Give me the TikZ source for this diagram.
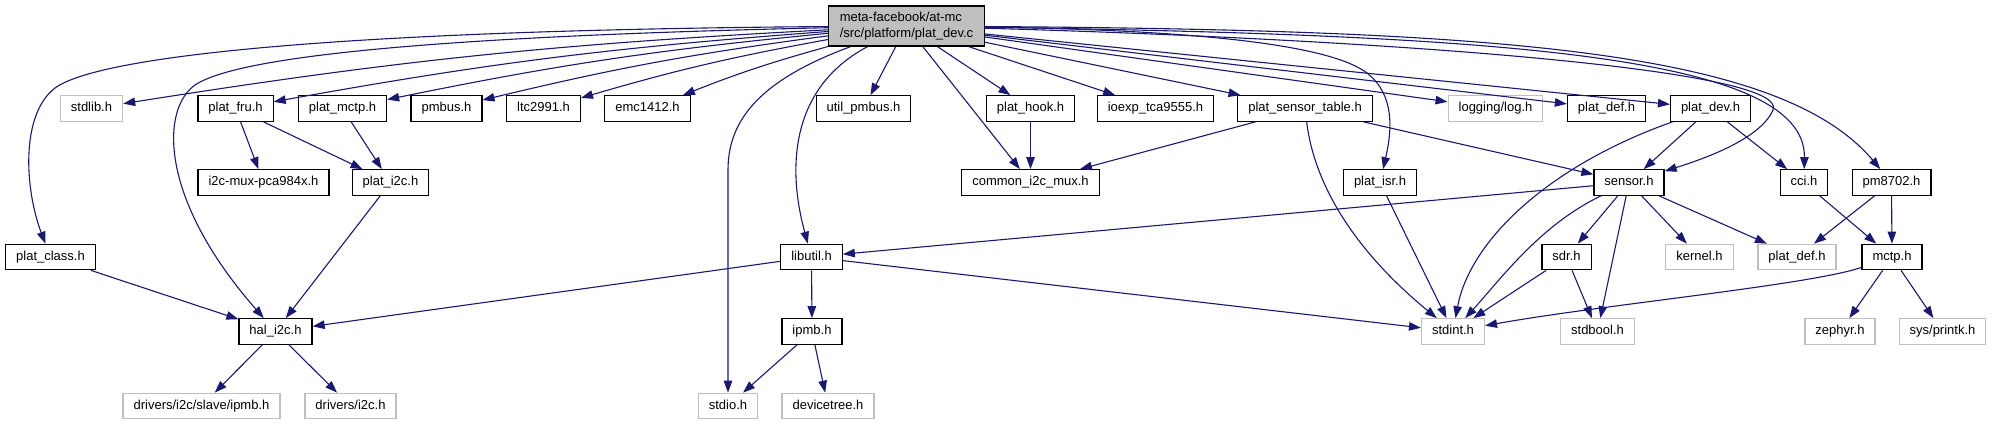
\documentclass[tikz,border=0pt]{standalone}
\usepackage{fontspec}
\setmainfont{Liberation Sans}
\usetikzlibrary{arrows.meta}
\definecolor{edgeblue}{HTML}{191970}

\begin{document}
\begin{tikzpicture}[x=1pt, y=-1pt, font=\fontsize{13}{16}\selectfont,
  >={Triangle[length=12pt,width=8.5pt]},
  e/.style={->, draw=edgeblue, line width=1.1pt},
  hdr/.style={draw=black, line width=1.2pt, fill=white, inner xsep=10.5pt, inner ysep=0pt,
    minimum height=25.5pt, text height=9.5pt, text depth=3pt},
  ext/.style={hdr, draw=black!25}]
\useasboundingbox (0,0) rectangle (1992,425);
\node[draw=black, fill=black!25, line width=1.2pt, align=left, inner xsep=11pt, minimum height=40pt]
  (root) at (906.5,26) {meta-facebook/at-mc\\/src/platform/plat\_dev.c};
% row 1
\node[ext] (stdlib) at (91.5,108.5)  {stdlib.h};
\node[hdr] (pfru)   at (235.5,108.5) {plat\_fru.h};
\node[hdr] (pmctp)  at (342.5,108.5) {plat\_mctp.h};
\node[hdr] (pmbus)  at (446.5,108.5) {pmbus.h};
\node[hdr] (ltc)    at (543.5,108.5) {ltc2991.h};
\node[hdr] (emc)    at (647.5,108.5) {emc1412.h};
\node[hdr] (upmbus) at (863.5,108.5) {util\_pmbus.h};
\node[hdr] (phook)  at (1030.5,108.5) {plat\_hook.h};
\node[hdr] (ioexp)  at (1155.5,108.5) {ioexp\_tca9555.h};
\node[hdr] (pst)    at (1305,108.5)  {plat\_sensor\_table.h};
\node[ext] (log)    at (1495.5,108.5) {logging/log.h};
\node[hdr] (pdefa)  at (1606.5,108.5) {plat\_def.h};
\node[hdr] (pdev)   at (1710.5,108.5) {plat\_dev.h};
% row 2
\node[hdr] (i2cmux) at (263.5,182.5) {i2c-mux-pca984x.h};
\node[hdr] (pi2c)   at (390.5,182.5) {plat\_i2c.h};
\node[hdr] (cmux)   at (1030.5,182.5) {common\_i2c\_mux.h};
\node[hdr] (pisr)   at (1380,182.5)  {plat\_isr.h};
\node[hdr] (sensor) at (1629,182.5)  {sensor.h};
\node[hdr] (cci)    at (1804,182.5)  {cci.h};
\node[hdr] (pm)     at (1891.5,182.5) {pm8702.h};
% row 3
\node[hdr] (pclass)  at (50.5,257)   {plat\_class.h};
\node[hdr] (libutil) at (811.5,257)  {libutil.h};
\node[hdr] (sdr)     at (1566.5,257) {sdr.h};
\node[ext] (kernel)  at (1699.5,257) {kernel.h};
\node[ext] (pdefb)   at (1797,257)   {plat\_def.h};
\node[hdr] (mctp)    at (1892,257)   {mctp.h};
% row 4
\node[hdr] (hal)     at (275.5,331.5) {hal\_i2c.h};
\node[hdr] (ipmb)    at (812,331.5)   {ipmb.h};
\node[ext] (stdint)  at (1453,331.5)  {stdint.h};
\node[ext] (stdbool) at (1597.5,331.5) {stdbool.h};
\node[ext] (zephyr)  at (1840,331.5)  {zephyr.h};
\node[ext] (printk)  at (1942.5,331.5) {sys/printk.h};
% row 5
\node[ext] (drvipmb) at (201.5,406) {drivers/i2c/slave/ipmb.h};
\node[ext] (drvi2c)  at (350.5,406) {drivers/i2c.h};
\node[ext] (stdio)   at (728,406)   {stdio.h};
\node[ext] (devtree) at (828,406)   {devicetree.h};
% edges from the source file
\foreach \n in {stdlib,pfru,pmctp,pmbus,ltc,emc} {\draw[e] (root) to[bend right=3] (\n);}
\foreach \n in {upmbus,phook,cmux,ioexp,pst,log,pdefa,pdev} {\draw[e] (root) -- (\n);}
\draw[e] (root) .. controls (350,30) and (100,55) .. (55,88) .. controls (20,115) and (25,190) .. (pclass);
\draw[e] (root) .. controls (450,36) and (240,55) .. (195,85) .. controls (160,110) and (160,200) .. (hal);
\draw[e] (root) .. controls (760,80) and (728,120) .. (728,170) -- (stdio);
\draw[e] (root) .. controls (795,85) and (785,160) .. (libutil);
\draw[e] (root) .. controls (1200,30) and (1330,45) .. (1367,73) .. controls (1395,95) and (1392,130) .. (pisr);
\draw[e] (root) .. controls (1400,40) and (1790,70) .. (1773,110) .. controls (1760,140) and (1700,160) .. (sensor);
\draw[e] (root) .. controls (1500,35) and (1806,55) .. (cci);
\draw[e] (root) .. controls (1500,30) and (1780,50) .. (pm);
% edges between headers
\foreach \a/\b in {pfru/i2cmux, pfru/pi2c, pmctp/pi2c, pi2c/hal, pclass/hal, libutil/hal,
    hal/drvipmb, hal/drvi2c, libutil/ipmb, ipmb/stdio, ipmb/devtree, libutil/stdint,
    sensor/libutil, phook/cmux, pst/cmux, pst/sensor, pisr/stdint, pdev/sensor, pdev/cci,
    sensor/sdr, sensor/stdbool, sensor/kernel, sensor/pdefb, sdr/stdint, sdr/stdbool,
    mctp/zephyr, mctp/printk, cci/mctp, pm/pdefb, pm/mctp}
  {\draw[e] (\a) -- (\b);}
\draw[e] (pst) .. controls (1315,190) and (1360,255) .. (stdint);
\draw[e] (pdev) .. controls (1550,165) and (1470,240) .. (stdint);
\draw[e] (sensor) .. controls (1540,225) and (1500,280) .. (stdint);
\draw[e] (mctp) .. controls (1810,285) and (1600,305) .. (stdint);
\end{tikzpicture}
\end{document}
